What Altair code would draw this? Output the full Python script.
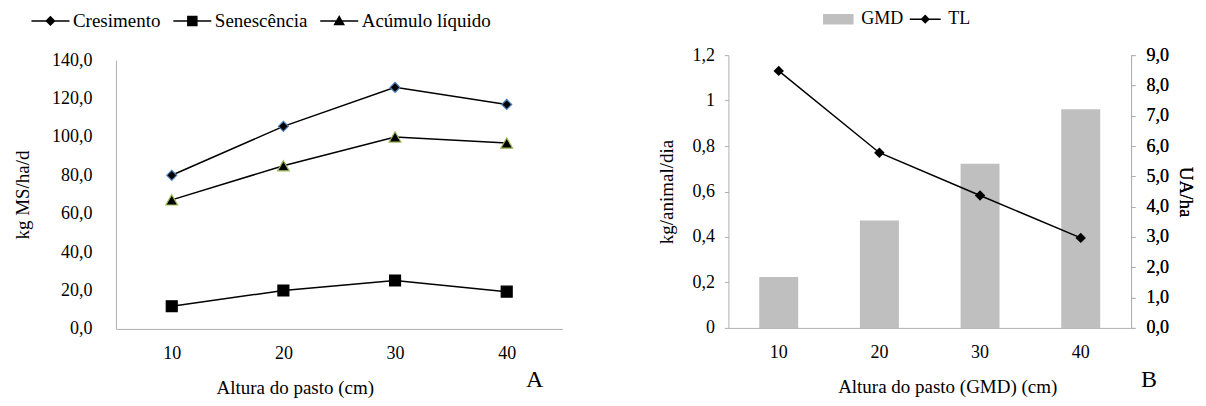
import altair as alt
import pandas as pd

alturas = ["10", "20", "30", "40"]
cresimento = [80.0, 105.5, 125.8, 116.9]
senescencia = [11.8, 20.0, 25.2, 19.4]
acumulo = [67.2, 85.0, 100.0, 96.8]
series_a = ["Cresimento", "Senescência", "Acúmulo líquido"]

gmd = [0.224, 0.472, 0.722, 0.962]
tl = [8.48, 5.78, 4.37, 2.97]
series_b = ["GMD", "TL"]

FONT = "Liberation Serif, serif"

rows = []
for name, vals in zip(series_a, [cresimento, senescencia, acumulo]):
    for a, v in zip(alturas, vals):
        rows.append({"altura": a, "serie": name, "valor": v})
df_a = pd.DataFrame(rows)

df_b = pd.DataFrame({"altura": alturas, "GMD": gmd, "TL": tl})

axis_common = dict(domainColor="#b0b0b0", labelFont=FONT, titleFont=FONT,
                   labelFontSize=18, titleFontSize=19, titleFontWeight="normal",
                   labelColor="black", titleColor="black", grid=False)

# ---------- Chart A ----------
HA = 274
xa = alt.X("altura:N", sort=alturas, scale=alt.Scale(paddingInner=0, paddingOuter=0),
           axis=alt.Axis(title="Altura do pasto (cm)", labelAngle=0, ticks=False,
                         labelPadding=16, titlePadding=16, titleX=179, **axis_common))
ya = alt.Y("valor:Q", scale=alt.Scale(domain=[0, 140], range=[HA, 5]),
           axis=alt.Axis(title="kg MS/ha/d", values=[0, 20, 40, 60, 80, 100, 120, 140],
                         ticks=False, labelPadding=24, titlePadding=19,
                         labelExpr="replace(format(datum.value, '.1f'), '.', ',')",
                         **axis_common))

base_a = alt.Chart(df_a)
line_a = base_a.mark_line(color="black", strokeWidth=1.5).encode(
    x=xa, y=ya, detail="serie:N")
pts_a = base_a.mark_point(filled=True, opacity=1, strokeWidth=1.2).encode(
    x=xa, y=ya,
    shape=alt.Shape("serie:N", scale=alt.Scale(domain=series_a, range=["diamond", "square", "triangle-up"]), legend=None),
    fill=alt.value("black"),
    stroke=alt.Stroke("serie:N", scale=alt.Scale(domain=series_a, range=["#4f81bd", "black", "#9bbb59"]), legend=None),
    size=alt.Size("serie:N", scale=alt.Scale(domain=series_a, range=[100, 140, 110]), legend=None),
)
# symbol box 10px (scale 5 px per unit); paths extend beyond box
leg_paths_a = [
    "M-3.8,0H3.8M-0.8,0L0,-0.8L0.8,0L0,0.8Z",
    "M-3.8,0H3.8M-0.9,-0.9H0.9V0.9H-0.9Z",
    "M-3.8,0H3.8M-0.9,0.7L0,-0.9L0.9,0.7Z",
]
leg_a_conf = alt.Legend(title=None, orient="none", direction="horizontal",
                        legendX=-75, legendY=-44, symbolSize=100,
                        symbolStrokeWidth=1.5, columnPadding=9,
                        labelFont=FONT, labelFontSize=19, labelColor="black",
                        labelOffset=13)
leg_a = base_a.transform_filter("false").mark_point(
    filled=True, strokeWidth=1.5, opacity=1).encode(
    x=xa, y=ya,
    shape=alt.Shape("serie:N", scale=alt.Scale(domain=series_a, range=leg_paths_a), legend=leg_a_conf),
    fill=alt.Fill("serie:N", scale=alt.Scale(domain=series_a, range=["black", "black", "black"]), legend=leg_a_conf),
    stroke=alt.Stroke("serie:N", scale=alt.Scale(domain=series_a, range=["black", "black", "black"]), legend=leg_a_conf),
)
txt_a = alt.Chart(pd.DataFrame({"t": ["A"]})).mark_text(
    font=FONT, fontSize=24, align="center", baseline="middle", color="black"
).encode(text="t:N", x=alt.value(419), y=alt.value(325))

chart_a = alt.layer(line_a, pts_a, leg_a, txt_a).resolve_scale(
    shape="independent", fill="independent", stroke="independent").properties(
    width=447, height=HA)

# ---------- Chart B ----------
HB = 273
xb = alt.X("altura:N", sort=alturas, scale=alt.Scale(paddingInner=0.613, paddingOuter=0.3065),
           axis=alt.Axis(title="Altura do pasto (GMD) (cm)", labelAngle=0, ticks=False,
                         labelPadding=16, titlePadding=16, titleX=219, **axis_common))
base_b = alt.Chart(df_b)
bars = base_b.mark_bar(color="#bfbfbf").encode(
    x=xb,
    y=alt.Y("GMD:Q", scale=alt.Scale(domain=[0, 1.2]),
            axis=alt.Axis(title="kg/animal/dia", values=[0, 0.2, 0.4, 0.6, 0.8, 1.0, 1.2],
                          ticks=True, tickSize=4, tickColor="#b0b0b0", labelPadding=10,
                          titlePadding=15,
                          labelExpr="replace(format(datum.value, '~g'), '.', ',')",
                          **axis_common)))
yr = alt.Y("TL:Q", scale=alt.Scale(domain=[0, 9]),
           axis=alt.Axis(title="UA/ha", orient="right", values=list(range(10)),
                         ticks=True, tickSize=4, tickColor="#b0b0b0", labelPadding=11,
                         titlePadding=7,
                         labelExpr="replace(format(datum.value, '.1f'), '.', ',')",
                         **axis_common))
line_b = base_b.mark_line(color="black", strokeWidth=1.5).encode(x=xb, y=yr)
pts_b = base_b.mark_point(filled=True, shape="diamond", size=110, color="black", opacity=1).encode(x=xb, y=yr)

leg_df = pd.DataFrame({"serie": series_b, "v": [0, 0]})
leg_b = alt.Chart(leg_df).transform_filter("false").mark_point(
    filled=True, strokeWidth=1.5, opacity=1).encode(
    x=alt.X("serie:N", axis=None, scale=alt.Scale(domain=series_b)),
    shape=alt.Shape("serie:N", scale=alt.Scale(domain=series_b,
                    range=["M-2.9,-0.9H2.9V0.9H-2.9Z", "M-3.1,0H3.1M-0.7,0L0,-0.7L0.7,0L0,0.7Z"]),
                    legend=alt.Legend(title=None, orient="none", direction="horizontal",
                                      legendX=101, legendY=-45, symbolSize=100,
                                      symbolStrokeWidth=1.5, columnPadding=2,
                                      labelFont=FONT, labelFontSize=18, labelColor="black",
                                      labelOffset=14)),
    fill=alt.Fill("serie:N", scale=alt.Scale(domain=series_b, range=["#bfbfbf", "black"])),
    stroke=alt.Stroke("serie:N", scale=alt.Scale(domain=series_b, range=["#bfbfbf", "black"])),
)
txt_b = alt.Chart(pd.DataFrame({"t": ["B"]})).mark_text(
    font=FONT, fontSize=24, align="center", baseline="middle", color="black"
).encode(text="t:N", x=alt.value(421), y=alt.value(325))

chart_b = alt.layer(bars, line_b, pts_b, txt_b).resolve_scale(y="independent").properties(
    width=403, height=HB)
chart_b = alt.layer(chart_b, leg_b).resolve_scale(x="independent").properties(width=403, height=HB)

chart = alt.hconcat(chart_a, chart_b, spacing=95).resolve_scale(
    shape="independent", fill="independent", stroke="independent", size="independent"
).resolve_legend(shape="independent", fill="independent", stroke="independent", size="independent"
).properties(padding={"left": 5, "top": 2, "right": 3, "bottom": 0}).configure(
    font=FONT,
    style={"guide-label": {"font": FONT}, "guide-title": {"font": FONT}},
).configure_view(stroke=None).configure_axis(labelFont=FONT, titleFont=FONT)

chart.save("out.html", embed_options={"renderer": "svg", "actions": False})
